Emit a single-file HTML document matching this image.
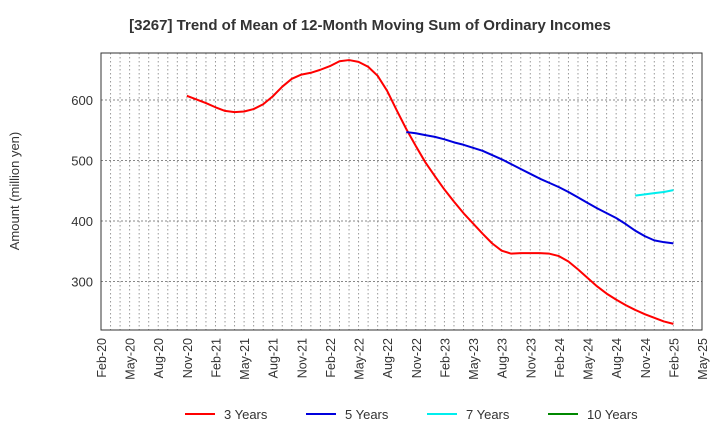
<!DOCTYPE html>
<html><head><meta charset="utf-8"><style>
body{margin:0;background:#fff;font-family:"Liberation Sans",sans-serif}
svg text{font-family:"Liberation Sans",sans-serif;fill:#333}
</style></head><body>
<svg id="c" width="720" height="440">
<text x="370" y="30" text-anchor="middle" font-weight="bold" font-size="15">[3267]  Trend of Mean of 12-Month Moving Sum of Ordinary Incomes</text>
<text transform="translate(19,191) rotate(-90)" text-anchor="middle" font-size="13">Amount (million yen)</text>
<g id="grid"></g><g id="series"></g><g id="axes"></g>
<g id="legend"></g>
</svg>
<script>
const xLabels=["Feb-20","May-20","Aug-20","Nov-20","Feb-21","May-21","Aug-21","Nov-21","Feb-22","May-22","Aug-22","Nov-22","Feb-23","May-23","Aug-23","Nov-23","Feb-24","May-24","Aug-24","Nov-24","Feb-25","May-25"];
const yTicks=[300,400,500,600];
const s3Start=9;
const s3=[607,601,595,588,582,580,581,585,593,606,622,635,642,645,650,656,664,666,663,655,640,615,583,552,524,497,474,452,432,413,396,379,363,351,346,347,347,347,346,342,333,320,306,292,280,270,261,253,246,240,234,230];
const s5Start=32;
const s5=[547,545,542,539,535,530,526,521,516,509,502,494,486,478,470,463,456,448,439,430,421,413,405,395,384,375,368,365,363];
const s7Start=56;
const s7=[442,444,446,448,451];
const L=101,R=702,T=53,B=330,NM=63;
const X=m=>L+(R-L)*m/NM, Y=v=>100+(600-v)*0.605;
const NS="http://www.w3.org/2000/svg";
function mk(p,t,a){const e=document.createElementNS(NS,t);for(const k in a)e.setAttribute(k,a[k]);p.appendChild(e);return e;}
const g=document.getElementById('grid'),ax=document.getElementById('axes'),sr=document.getElementById('series'),lg=document.getElementById('legend');
for(let m=1;m<NM;m++){const l=mk(g,'line',{x1:X(m),x2:X(m),y1:T,y2:B,stroke:'#999','stroke-dasharray':'1.5,2.5','stroke-width':1});

}
yTicks.forEach(v=>{const l=mk(g,'line',{x1:L,x2:R,y1:Y(v),y2:Y(v),stroke:'#888','stroke-dasharray':'2,2'});


const t=mk(ax,'text',{x:L-8,y:Y(v)+5,'text-anchor':'end','font-size':13});t.textContent=v;

});
const fr=mk(ax,'rect',{x:L,y:T,width:R-L,height:B-T,fill:'none',stroke:'#333','stroke-width':1});


xLabels.forEach((s,i)=>{const x=X(i*3);const t=mk(ax,'text',{transform:`translate(${x+5},${B+8}) rotate(-90)`,'text-anchor':'end','font-size':12.5});t.textContent=s;

});
function line(d,st,c,n){const p=mk(sr,'polyline',{points:d.map((v,i)=>X(st+i)+','+Y(v)).join(' '),fill:'none',stroke:c,'stroke-width':2,'stroke-linejoin':'round'});

}
line(s3,s3Start,'#f00','line-3-years');
line(s5,s5Start,'#00d','line-5-years');
line(s7,s7Start,'#0ee','line-7-years');
const leg=[['3 Years','#f00',185],['5 Years','#00d',306],['7 Years','#0ee',427],['10 Years','#080',548]];
leg.forEach(([n,c,x])=>{const gg=mk(lg,'g',{});


mk(gg,'line',{x1:x,x2:x+30,y1:414,y2:414,stroke:c,'stroke-width':2});
const t=mk(gg,'text',{x:x+39,y:419,'font-size':13});t.textContent=n;});
</script>
</body></html>
